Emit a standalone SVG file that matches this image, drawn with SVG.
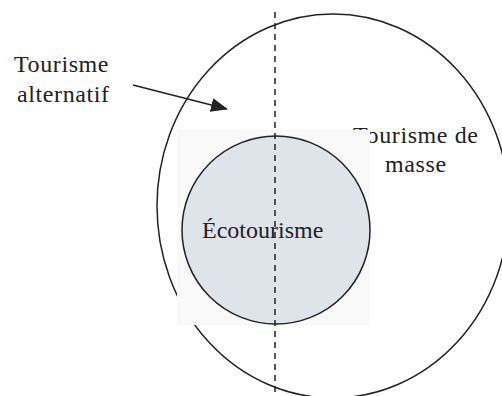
<svg xmlns="http://www.w3.org/2000/svg" width="502" height="396" viewBox="0 0 502 396">
  <style>
    .ring { fill: none; stroke: #222; stroke-width: 1.5; }
    .label { font-family: "Liberation Serif", "Times New Roman", serif; font-size: 24px; fill: #222; letter-spacing: 0.6px; }
    .tight { letter-spacing: 0; }
    .axis { stroke: #222; stroke-width: 1.5; stroke-dasharray: 6 5; }
    .pointer { stroke: #222; stroke-width: 1.6; fill: none; }
  </style>
  <defs>
    <marker id="arrowhead" refX="16" refY="7" markerWidth="17" markerHeight="14" markerUnits="userSpaceOnUse" orient="auto">
      <path d="M0,0 L17,7 L0,14 Z" fill="#222"/>
    </marker>
  </defs>
  <rect width="502" height="396" fill="#ffffff"/>

  <!-- outer region: mass tourism -->
  <g id="tourisme-de-masse">
    <ellipse class="ring" cx="333" cy="206" rx="176" ry="192"/>
    <text class="label" x="353" y="143">Tourisme de</text>
    <text class="label" x="385" y="172">masse</text>
  </g>

  <!-- inner region: ecotourism -->
  <g id="ecotourisme">
    <rect x="177" y="130" width="193" height="195" fill="#f9f9fa"/>
    <circle cx="276" cy="230" r="94" fill="#dfe3ea" stroke="#222" stroke-width="1.5"/>
    <text class="label tight" x="202" y="238">Écotourisme</text>
  </g>

  <!-- side label: alternative tourism -->
  <g id="tourisme-alternatif">
    <text class="label" x="14" y="72">Tourisme</text>
    <text class="label" x="17" y="102">alternatif</text>
  </g>

  <g id="connectors">
    <line class="axis" x1="275" y1="12" x2="275" y2="396"/>
    <line class="pointer" x1="133" y1="85" x2="227" y2="109" marker-end="url(#arrowhead)"/>
  </g>
</svg>
